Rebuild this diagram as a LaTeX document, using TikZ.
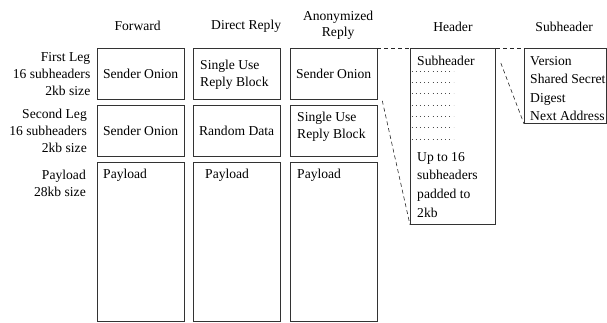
\documentclass[tikz,border=0pt]{standalone}
\usepackage{fontspec}
\setmainfont{Liberation Serif}
\usetikzlibrary{positioning,calc}

\begin{document}
\begin{tikzpicture}[x=1pt, y=-1pt,
		txt/.style={font=\fontsize{13.6}{16.7}\selectfont, inner sep=0pt},
		cell/.style={rectangle, draw=black!80, line width=0.8pt, anchor=north west, inner sep=0pt, minimum width=86.5pt},
		legbox/.style={cell, minimum height=51pt},
		paybox/.style={cell, minimum height=159pt},
		link/.style={draw=black!85, line width=0.6pt, dash pattern=on 4pt off 3pt},
		dotline/.style={draw=black!70, line width=0.6pt, dash pattern=on 0.7pt off 3.5pt}
	]
	\useasboundingbox (0,0) rectangle (607,322);

	% message columns
	\node[legbox] (fwdA) at (97,48) {};
	\node[legbox] (fwdB) at (97,105) {};
	\node[paybox] (fwdP) at (97,162) {};
	\node[legbox] (dirA) at (193,48) {};
	\node[legbox] (dirB) at (193,105) {};
	\node[paybox] (dirP) at (193,162) {};
	\node[legbox] (anoA) at (290,48) {};
	\node[legbox] (anoB) at (290,105) {};
	\node[paybox] (anoP) at (290,162) {};

	% header and subheader
	\node[cell, minimum width=85pt, minimum height=176pt] (hdr) at (410,48) {};
	\node[cell, minimum width=81.5pt, minimum height=75pt] (sub) at (524,48) {};

	% column titles
	\node[txt] (colFwd) at ($(fwdA.north)+(-3,-22)$) {Forward};
	\node[txt] (colDir) at ($(dirA.north)+(9.5,-22)$) {Direct Reply};
	\node[txt, align=center, font=\fontsize{13.6}{16}\selectfont] (colAno) at ($(anoA.north)+(4.5,-23)$) {Anonymized\\Reply};
	\node[txt] (colHdr) at ($(hdr.north)+(0,-21)$) {Header};
	\node[txt] (colSub) at ($(sub.north)+(-1,-21)$) {Subheader};

	% row titles
	\node[txt, align=right, anchor=east] (rowA) at ($(fwdA.west)+(-6.5,0)$) {First Leg\\16 subheaders\\2kb size};
	\node[txt, align=right, anchor=east] (rowB) at ($(fwdB.west)+(-10,0)$) {Second Leg\\16 subheaders\\2kb size};
	\node[txt, align=right, anchor=east] (rowP) at ($(fwdP.north west)+(-11,21.5)$) {Payload\\28kb size};

	% cell contents
	\node[txt] (fwdAt) at (fwdA) {Sender Onion};
	\node[txt] (fwdBt) at (fwdB) {Sender Onion};
	\node[txt, anchor=west] (fwdPt) at ($(fwdP.north west)+(6,13)$) {Payload};
	\node[txt, align=left, anchor=west] (dirAt) at ($(dirA.west)+(7,1)$) {Single Use\\Reply Block};
	\node[txt] (dirBt) at (dirB) {Random Data};
	\node[txt, anchor=west] (dirPt) at ($(dirP.north west)+(12,13)$) {Payload};
	\node[txt] (anoAt) at (anoA) {Sender Onion};
	\node[txt, align=left, anchor=west] (anoBt) at ($(anoB.west)+(7,-4)$) {Single Use\\Reply Block};
	\node[txt, anchor=west] (anoPt) at ($(anoP.north west)+(7,13)$) {Payload};

	% header contents
	\node[txt, anchor=west] (hdrSub) at ($(hdr.north west)+(7,13)$) {Subheader};
	\foreach \i in {0,...,6}
		\draw[dotline] ($(hdr.north west)+(1.5,23+11.3*\i)$) -- +(42,0);
	\node[txt, align=left, anchor=north west, font=\fontsize{13.6}{18.7}\selectfont] (hdrNote) at ($(hdr.north west)+(7,104)$) {Up to 16\\subheaders\\padded to\\2kb};

	% subheader contents
	\node[txt, align=left, anchor=north west, font=\fontsize{13.6}{18.4}\selectfont] (subList) at ($(sub.north west)+(6,8.3)$) {Version\\Shared Secret\\Digest\\Next Address};

	% zoom lines
	\coordinate (anoTail) at ($(anoA.south east)+(5,1)$);
	\coordinate (hdrTail) at ($(hdr.north east)+(5,15)$);
	\draw[link] (anoA.north east) -- (hdr.north west);
	\draw[link] (anoTail) -- (hdr.south west);
	\draw[link] (hdr.north east) -- (sub.north west);
	\draw[link] (hdrTail) -- (sub.south west);
\end{tikzpicture}
\end{document}
